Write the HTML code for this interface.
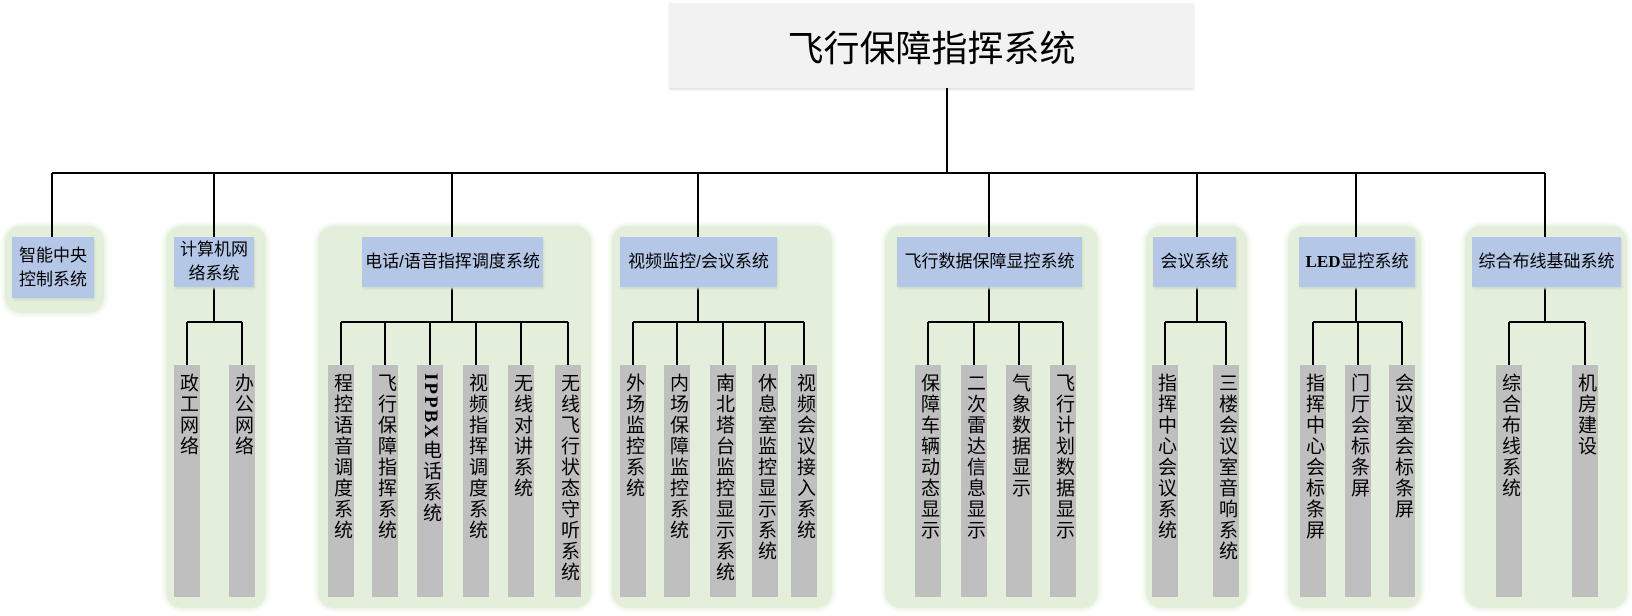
<!DOCTYPE html>
<html><head><meta charset="utf-8"><style>
body{margin:0;width:1632px;height:616px;background:#fff;position:relative;overflow:hidden;font-family:"Liberation Sans","Noto Sans CJK SC",sans-serif;}
.a{position:absolute;box-sizing:border-box}
.panel{background:#e3efda;border-radius:16px;box-shadow:0 0 4px 2px #e8f2e0}
.blue{background:#b4c7e7;display:flex;align-items:center;justify-content:center;text-align:center;font-size:17px;line-height:24px;color:#000;box-shadow:1px 2px 2px #d0dcc8}
.bar{background:#bfbfbf;top:365px;height:232px;width:26px;writing-mode:vertical-rl;font-size:19px;line-height:26px;padding-top:8px;text-align:left;color:#000;letter-spacing:2px}
</style></head><body>
<div class="a" style="left:669px;top:3px;width:525px;height:85px;background:#f2f2f2;box-shadow:0 2px 2px #dde3ea;display:flex;align-items:center;justify-content:center;font-size:36px;">飞行保障指挥系统</div>

<div class="a panel" style="left:5px;top:226px;width:99px;height:87px"></div>
<div class="a panel" style="left:166px;top:226px;width:100px;height:382px"></div>
<div class="a panel" style="left:318px;top:226px;width:273px;height:382px"></div>
<div class="a panel" style="left:612px;top:226px;width:220px;height:382px"></div>
<div class="a panel" style="left:885px;top:226px;width:213px;height:382px"></div>
<div class="a panel" style="left:1146px;top:226px;width:101px;height:382px"></div>
<div class="a panel" style="left:1288px;top:226px;width:133px;height:382px"></div>
<div class="a panel" style="left:1465px;top:226px;width:162px;height:382px"></div>

<svg class="a" style="left:0;top:0" width="1632" height="616">
<g stroke="#000" stroke-width="2" fill="none">
<path d="M947 88V173M52 173H1545"/>
<path d="M52 173V237M214 173V237M452 173V237M698 173V237M989 173V237M1197 173V237M1356 173V237M1545 173V237"/>
<path d="M214 287V322M187 322H242M187 322V365M242 322V365"/>
<path d="M452 287V322M341 322H568M341 322V365M385 322V365M430 322V365M476 322V365M521 322V365M568 322V365"/>
<path d="M698 287V322M633 322H804M633 322V365M677 322V365M723 322V365M765 322V365M804 322V365"/>
<path d="M989 287V322M928 322H1063M928 322V365M974 322V365M1019 322V365M1063 322V365"/>
<path d="M1197 287V322M1165 322H1226M1165 322V365M1226 322V365"/>
<path d="M1356 287V322M1313 322H1402M1313 322V365M1358 322V365M1402 322V365"/>
<path d="M1545 287V322M1509 322H1585M1509 322V365M1585 322V365"/>
</g></svg>

<div class="a blue" style="left:12px;top:237px;width:82px;height:61px">智能中央<br>控制系统</div>
<div class="a blue" style="left:174px;top:237px;width:80px;height:50px">计算机网<br>络系统</div>
<div class="a blue" style="left:362px;top:237px;width:181px;height:50px">电话/语音指挥调度系统</div>
<div class="a blue" style="left:620px;top:237px;width:157px;height:50px">视频监控/会议系统</div>
<div class="a blue" style="left:897px;top:237px;width:185px;height:50px">飞行数据保障显控系统</div>
<div class="a blue" style="left:1153px;top:237px;width:83px;height:50px">会议系统</div>
<div class="a blue" style="left:1299px;top:237px;width:116px;height:50px"><b style="font-family:'Liberation Serif',serif">LED</b>显控系统</div>
<div class="a blue" style="left:1472px;top:237px;width:149px;height:50px">综合布线基础系统</div>

<div class="a bar" style="left:174px">政工网络</div>
<div class="a bar" style="left:229px">办公网络</div>

<div class="a bar" style="left:328px">程控语音调度系统</div>
<div class="a bar" style="left:372px">飞行保障指挥系统</div>
<div class="a bar" style="left:417px"><b style="font-family:'Liberation Serif',serif">IPPBX</b>电话系统</div>
<div class="a bar" style="left:463px">视频指挥调度系统</div>
<div class="a bar" style="left:508px">无线对讲系统</div>
<div class="a bar" style="left:555px">无线飞行状态守听系统</div>

<div class="a bar" style="left:620px">外场监控系统</div>
<div class="a bar" style="left:664px">内场保障监控系统</div>
<div class="a bar" style="left:710px">南北塔台监控显示系统</div>
<div class="a bar" style="left:752px">休息室监控显示系统</div>
<div class="a bar" style="left:791px">视频会议接入系统</div>

<div class="a bar" style="left:915px">保障车辆动态显示</div>
<div class="a bar" style="left:961px">二次雷达信息显示</div>
<div class="a bar" style="left:1006px">气象数据显示</div>
<div class="a bar" style="left:1050px">飞行计划数据显示</div>

<div class="a bar" style="left:1152px">指挥中心会议系统</div>
<div class="a bar" style="left:1213px">三楼会议室音响系统</div>

<div class="a bar" style="left:1300px">指挥中心会标条屏</div>
<div class="a bar" style="left:1345px">门厅会标条屏</div>
<div class="a bar" style="left:1389px">会议室会标条屏</div>

<div class="a bar" style="left:1496px">综合布线系统</div>
<div class="a bar" style="left:1572px">机房建设</div>
</body></html>
